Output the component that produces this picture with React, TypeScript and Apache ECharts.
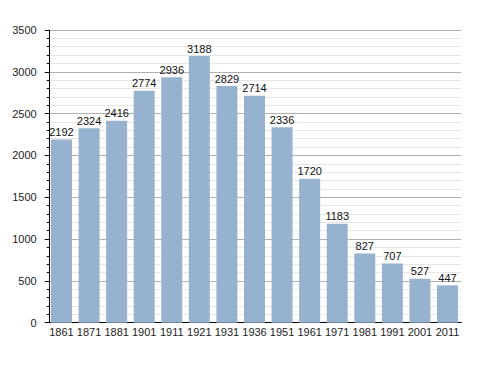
import React, { useEffect, useRef } from "react";
import * as echarts from "echarts";

const years = ["1861","1871","1881","1901","1911","1921","1931","1936","1951","1961","1971","1981","1991","2001","2011"];
const population = [2192,2324,2416,2774,2936,3188,2829,2714,2336,1720,1183,827,707,527,447];

export default function App() {
  const ref = useRef<HTMLDivElement>(null);
  useEffect(() => {
    const chart = echarts.init(ref.current!, null, { renderer: "svg" });
    chart.setOption({
      animation: false,
      grid: { left: 47.7, top: 30, width: 413.6, height: 292.7 },
      xAxis: {
        type: "category",
        data: years,
        axisLine: { show: true, lineStyle: { color: "#000", width: 1 } },
        axisTick: { show: false },
        axisLabel: { color: "#222", fontSize: 11, fontFamily: "Liberation Sans, Arial, sans-serif", margin: 4, interval: 0 },
        splitLine: { show: false },
      },
      yAxis: {
        type: "value",
        min: 0,
        max: 3500,
        interval: 500,
        offset: -2,
        axisLine: { show: true, lineStyle: { color: "#000", width: 1 } },
        axisTick: { show: true, length: 5, lineStyle: { color: "#000" } },
        minorTick: { show: true, splitNumber: 5, length: 3, lineStyle: { color: "#000" } },
        axisLabel: {
          color: "#222",
          fontSize: 11,
          fontFamily: "Liberation Sans, Arial, sans-serif",
          margin: 13,
          formatter: (v: number) => String(v),
        },
        splitLine: { show: true, lineStyle: { color: "#b0b0b0", width: 1 } },
        minorSplitLine: { show: true, lineStyle: { color: "#e6e6e6", width: 1 } },
      },
      series: [
        {
          type: "bar",
          data: population,
          barWidth: 21,
          itemStyle: { color: "#97b2cf" },
          label: {
            show: true,
            position: "top",
            distance: 2,
            color: "#111",
            fontSize: 11,
            fontFamily: "Liberation Sans, Arial, sans-serif",
          },
        },
      ],
    });
    return () => chart.dispose();
  }, []);
  return <div ref={ref} style={{ width: 488, height: 373, margin: -8 }} />;
}
